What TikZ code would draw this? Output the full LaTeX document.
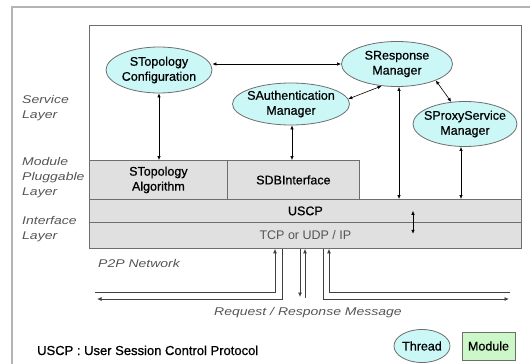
\documentclass[tikz,border=0pt]{standalone}
\usepackage{fontspec}
\setmainfont[FakeBold=0.7]{Liberation Sans}
\newfontfamily\plainfont{Liberation Sans}
\newfontfamily\lblfont[FakeStretch=1.25]{Liberation Sans}
\usetikzlibrary{shapes.geometric,arrows.meta,calc}
\definecolor{thr}{HTML}{CCF7F7}
\definecolor{modg}{HTML}{CCF7C8}
\definecolor{boxg}{HTML}{E0E0E0}
\definecolor{edgec}{HTML}{6E6E6E}
\definecolor{lblc}{HTML}{555555}
\definecolor{framec}{HTML}{B4B4B4}
\tikzset{
  thread/.style={ellipse, draw=edgec, line width=0.8pt, fill=thr, inner sep=0pt},
  txt/.style={font=\fontsize{12.5}{15}\selectfont, align=center},
  modbox/.style={draw=edgec, fill=boxg, line width=0.8pt, inner sep=0pt, anchor=north west, txt},
  lbl/.style={font=\lblfont\itshape\fontsize{11.2}{15}\selectfont, text=lblc, inner sep=0pt, align=left},
  arr/.style={{Latex[length=4pt,width=3.5pt]}-{Latex[length=4pt,width=3.5pt]}, line width=0.6pt},
  net/.style={draw=black!75, line width=0.8pt, -{Latex[length=4.5pt,width=4pt]}},
}
\begin{document}
\begin{tikzpicture}[x=1pt,y=-1pt]
\useasboundingbox (0,0) rectangle (530,364);
% outer frame
\coordinate (fb) at (12,364);
\coordinate (fc) at (12,7);
\coordinate (fr) at (530,7);
\draw[framec, line width=2pt] (fb) -- (fc) -- (fr);
% inner box
\node[draw=edgec, line width=1pt, minimum width=432pt, minimum height=223pt, anchor=north west, inner sep=0pt] (inner) at (89,25) {};
% module layer boxes
\node[modbox, minimum width=138pt, minimum height=39pt] (talg) at (89,160) {STopology\\Algorithm};
\node[modbox, minimum width=132pt, minimum height=39pt] (sdb) at (227,160) {SDBInterface};
\node[modbox, minimum width=432pt, minimum height=23pt] (uscp) at (89,199) {USCP};
\node[modbox, minimum width=432pt, minimum height=26pt, text=lblc, font=\plainfont\fontsize{12.5}{15}\selectfont] (tcp) at (89,222) {TCP or UDP / IP};
% threads
\node[thread, minimum width=106pt, minimum height=46pt, label={[txt]center:STopology\\Configuration}] (tconf) at (159,70) {};
\node[thread, minimum width=111pt, minimum height=45pt, label={[txt]center:SResponse\\Manager}] (resp) at (397,64) {};
\node[thread, minimum width=117pt, minimum height=42pt, label={[txt]center:SAuthentication\\Manager}] (auth) at (291,104) {};
\node[thread, minimum width=104pt, minimum height=45pt, label={[txt]center:SProxyService\\Manager}] (proxy) at (465,124) {};
% service connectors
\draw[arr] (resp.west) -- (resp.west -| tconf.east);
\draw[arr] (tconf.south) -- (tconf.south |- talg.north);
\draw[arr] (auth.5) -- (resp.-125);
\draw[arr] (resp.-23) -- (proxy.122);
\draw[arr] ($(auth.south)+(1,0)$) -- ($(auth.south |- sdb.north)+(1,0)$);
\draw[arr] ($(resp.south)+(2,0)$) -- ($(resp.south |- uscp.north)+(2,0)$);
\draw[arr] ($(proxy.south)+(-4,0)$) -- ($(proxy.south |- uscp.north)+(-4,0)$);
\coordinate (ua) at ($(uscp.south west)+(324,-12)$);
\coordinate (ub) at ($(uscp.south west)+(324,11)$);
\draw[arr] (ua) -- (ub);
% layer labels
\node[lbl, anchor=north west] (svl) at (22,95) {Service\\Layer};
\node[lbl, anchor=north west] (mpl) at (22,157) {Module\\Pluggable\\Layer};
\node[lbl, anchor=north west] (ifl) at (22,216) {Interface\\Layer};
\node[lbl, anchor=base west] (p2p) at (98,267) {P2P Network};
\node[lbl, anchor=base] (rr) at (308,315) {Request / Response Message};
% network paths
\coordinate (a0) at (95,292);
\coordinate (b1) at (97,299);
\coordinate (f0) at (510,292);
\coordinate (e1) at (509,299);
\coordinate (c1) at (300,297);
\coordinate (d0) at (305,298);
\draw[net] (a0) -| (tcp.south -| 275,0);
\draw[net] (tcp.south -| 282,0) |- (b1);
\draw[net] (tcp.south -| 300,0) -- (c1);
\draw[net] (d0) -- (tcp.south -| 305,0);
\draw[net] (tcp.south -| 323,0) |- (e1);
\draw[net] (f0) -| (tcp.south -| 329,0);
% legend
\node[txt, anchor=base west, inner sep=0pt, font=\fontsize{13}{15}\selectfont] (leg) at (37,355) {USCP : User Session Control Protocol};
\node[thread, minimum width=56pt, minimum height=33pt, label={[txt]center:Thread}] (thr) at (422,346) {};
\node[draw=edgec, line width=0.8pt, fill=modg, minimum width=53pt, minimum height=28pt, inner sep=0pt, txt] (mod) at (488.5,346) {Module};
\end{tikzpicture}
\end{document}
